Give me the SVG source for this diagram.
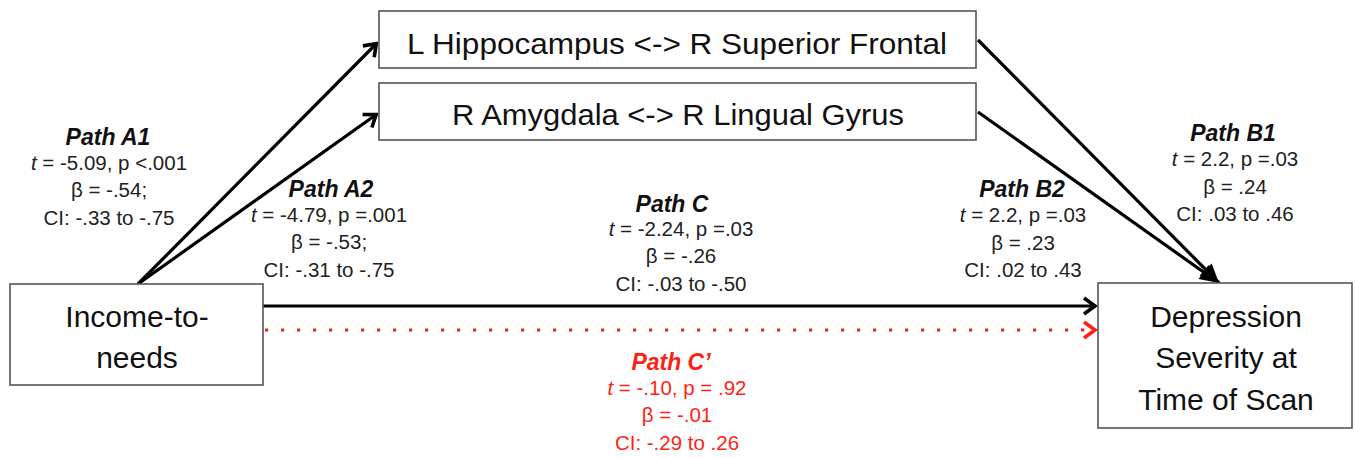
<svg xmlns="http://www.w3.org/2000/svg" width="1355" height="458" viewBox="0 0 1355 458">
<style>
.box{fill:#fff;stroke:#555;stroke-width:1.6}
.big{font-family:"Liberation Sans",Arial,sans-serif;font-size:30px;fill:#111;text-anchor:middle}
.st{font-family:"Liberation Sans",Arial,sans-serif;font-size:20.5px;fill:#222;text-anchor:middle}
.hd{font-family:"Liberation Sans",Arial,sans-serif;font-size:23px;font-weight:bold;font-style:italic;fill:#111;text-anchor:middle}
.red{fill:#ff1f14}
.ln{stroke:#000;stroke-width:3.2;fill:none}
</style>
<defs>
<marker id="open" viewBox="-16 -11 18 22" refX="0" refY="0" markerWidth="18" markerHeight="22" markerUnits="userSpaceOnUse" orient="auto">
<path d="M-12,-8 L-1,0 L-12,8" fill="none" stroke="#000" stroke-width="3.6"/>
</marker>
<marker id="openred" viewBox="-16 -11 18 22" refX="0" refY="0" markerWidth="18" markerHeight="22" markerUnits="userSpaceOnUse" orient="auto">
<path d="M-12,-8 L-1,0 L-12,8" fill="none" stroke="#ff1f14" stroke-width="3.6"/>
</marker>
<marker id="solid" viewBox="-20 -10 22 20" refX="0" refY="0" markerWidth="22" markerHeight="20" markerUnits="userSpaceOnUse" orient="auto">
<path d="M-19,-8.5 L0,0 L-19,8.5 Z" fill="#000"/>
</marker>
</defs>

<g id="connectors">
<line class="ln" x1="138" y1="284" x2="377" y2="43" marker-end="url(#open)"/>
<line class="ln" x1="138" y1="284" x2="377" y2="114" marker-end="url(#open)"/>
<line class="ln" x1="978" y1="40" x2="1219" y2="283" marker-end="url(#solid)"/>
<line class="ln" x1="978" y1="112" x2="1219" y2="283" marker-end="url(#solid)"/>
<line class="ln" x1="263" y1="306" x2="1096" y2="306" marker-end="url(#open)"/>
<line x1="265" y1="330" x2="1090" y2="330" stroke="#ff1f14" stroke-width="3.2" stroke-dasharray="3.2 12.8"/>
<line x1="1080" y1="330" x2="1096" y2="330" stroke="none" marker-end="url(#openred)"/>
</g>

<g id="node-hippocampus">
<rect class="box" x="379" y="11" width="597" height="57"/>
<text class="big" x="677" y="54" textLength="540" lengthAdjust="spacingAndGlyphs">L Hippocampus &lt;-&gt; R Superior Frontal</text>
</g>
<g id="node-amygdala">
<rect class="box" x="379" y="83" width="597" height="57"/>
<text class="big" x="678" y="125" textLength="452" lengthAdjust="spacingAndGlyphs">R Amygdala &lt;-&gt; R Lingual Gyrus</text>
</g>
<g id="node-income">
<rect class="box" x="10" y="284" width="253" height="101"/>
<text class="big" x="137" y="327">Income-to-</text>
<text class="big" x="137" y="368">needs</text>
</g>
<g id="node-depression">
<rect class="box" x="1098" y="283" width="254" height="145"/>
<text class="big" x="1226" y="327">Depression</text>
<text class="big" x="1226" y="368">Severity at</text>
<text class="big" x="1226" y="410">Time of Scan</text>
</g>

<g id="label-a1">
<text class="hd" x="108" y="145">Path A1</text>
<text class="st" x="109" y="170"><tspan font-style="italic">t</tspan> = -5.09, p &lt;.001</text>
<text class="st" x="109" y="197">β = -.54;</text>
<text class="st" x="109" y="225">CI: -.33 to -.75</text>
</g>
<g id="label-a2">
<text class="hd" x="331" y="197">Path A2</text>
<text class="st" x="329" y="222"><tspan font-style="italic">t</tspan> = -4.79, p =.001</text>
<text class="st" x="329" y="249">β = -.53;</text>
<text class="st" x="329" y="277">CI: -.31 to -.75</text>
</g>
<g id="label-c">
<text class="hd" x="672" y="212">Path C</text>
<text class="st" x="681" y="236"><tspan font-style="italic">t</tspan> = -2.24, p =.03</text>
<text class="st" x="681" y="263">β = -.26</text>
<text class="st" x="681" y="291">CI: -.03 to -.50</text>
</g>
<g id="label-cprime">
<text class="hd red" x="671" y="370">Path C’</text>
<text class="st red" x="677" y="395"><tspan font-style="italic">t</tspan> = -.10, p = .92</text>
<text class="st red" x="677" y="422">β = -.01</text>
<text class="st red" x="677" y="450">CI: -.29 to .26</text>
</g>
<g id="label-b2">
<text class="hd" x="1022" y="197">Path B2</text>
<text class="st" x="1023" y="222"><tspan font-style="italic">t</tspan> = 2.2, p =.03</text>
<text class="st" x="1023" y="250">β = .23</text>
<text class="st" x="1023" y="277">CI: .02 to .43</text>
</g>
<g id="label-b1">
<text class="hd" x="1233" y="141">Path B1</text>
<text class="st" x="1235" y="166"><tspan font-style="italic">t</tspan> = 2.2, p =.03</text>
<text class="st" x="1235" y="194">β = .24</text>
<text class="st" x="1235" y="221">CI: .03 to .46</text>
</g>
</svg>
